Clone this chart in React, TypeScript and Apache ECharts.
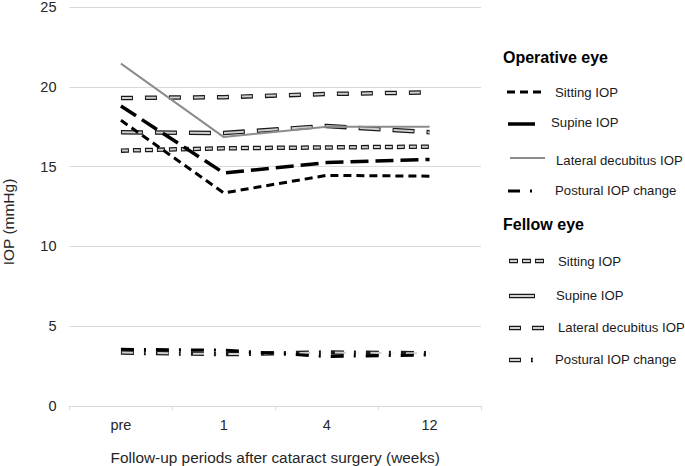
import React, { useEffect, useRef } from "react";
import * as echarts from "echarts";

const categories = ["pre", "1", "4", "12"];
const yTicks = [0, 5, 10, 15, 20, 25];

const opSitting = [17.9, 13.35, 14.45, 14.4];
const opSupine = [18.8, 14.6, 15.25, 15.45];
const opLateral = [21.45, 16.85, 17.5, 17.5];
const opPostural = [3.55, 3.5, 3.1, 3.2];

const fellowSitting = [16.0, 16.15, 16.2, 16.25];
const fellowSupine = [17.15, 17.1, 17.55, 17.15];
const fellowLateral = [19.3, 19.35, 19.55, 19.65];
const fellowPostural = [3.35, 3.25, 3.35, 3.3];

const FONT = "'Liberation Sans', Arial, sans-serif";
const INNER = "#cfcfcf";

function plain(name: string, data: number[], color: string, width: number, dash: any, z = 3) {
  return {
    name,
    type: "line",
    data,
    symbol: "none",
    z,
    lineStyle: { color, width, type: dash, cap: "butt" },
  };
}

function outlined(name: string, data: number[], dash: number[] | "solid") {
  let innerDash: any = "solid";
  if (dash !== "solid") {
    innerDash = [];
    for (let i = 0; i < dash.length; i += 2) {
      innerDash.push(Math.max(dash[i] - 2, 0.5), dash[i + 1] + 2);
    }
  }
  return [
    {
      name,
      type: "line",
      data,
      symbol: "none",
      z: 2,
      lineStyle: { color: "#1a1a1a", width: 4.5, type: dash, cap: "butt" },
    },
    {
      name: name + " inner",
      type: "line",
      data,
      symbol: "none",
      z: 2,
      lineStyle: {
        color: INNER,
        width: 2,
        type: innerDash,
        dashOffset: dash === "solid" ? 0 : -1,
        cap: "butt",
      },
    },
  ];
}

function legendLine(x1: number, x2: number, y: number, stroke: string, w: number, dash?: number[]) {
  return {
    type: "line",
    shape: { x1, y1: y, x2, y2: y },
    style: { stroke, lineWidth: w, lineDash: dash || null, lineCap: "butt" },
  };
}

function legendOutlined(x1: number, x2: number, y: number, dash?: number[]) {
  const els: any[] = [legendLine(x1, x2, y, "#1a1a1a", 4.5, dash)];
  let inner: any = undefined;
  if (dash) {
    inner = [];
    for (let i = 0; i < dash.length; i += 2) inner.push(Math.max(dash[i] - 2, 0.5), dash[i + 1] + 2);
  }
  els.push({
    type: "line",
    shape: { x1: x1 + 1, y1: y, x2: x2 - 1, y2: y },
    style: { stroke: INNER, lineWidth: 2, lineDash: inner || null, lineCap: "butt" },
  });
  return els;
}

function legendText(x: number, y: number, text: string, bold = false) {
  return {
    type: "text",
    x,
    y,
    style: {
      text,
      fill: bold ? "#000" : "#1a1a1a",
      font: bold ? `bold 16px ${FONT}` : `13.2px ${FONT}`,
      verticalAlign: "middle",
      align: "left",
    },
  };
}

export default function App() {
  const ref = useRef<HTMLDivElement>(null);
  useEffect(() => {
    document.body.style.margin = "0";
    if (!ref.current) return;
    const chart = echarts.init(ref.current, undefined, { renderer: "svg" });
    const series: any[] = [
      ...outlined("Fellow Sitting IOP", fellowSitting, [8, 4]),
      ...outlined("Fellow Supine IOP", fellowSupine, [22, 12]),
      ...outlined("Fellow Lateral decubitus IOP", fellowLateral, [12, 12]),
      ...outlined("Fellow Postural IOP change", fellowPostural, [13, 10, 2, 10]),
      plain("Sitting IOP", opSitting, "#000", 3, [8, 5]),
      plain("Supine IOP", opSupine, "#000", 3.5, [18, 7]),
      plain("Lateral decubitus IOP", opLateral, "#8c8c8c", 2, "solid"),
      plain("Postural IOP change", opPostural, "#000", 3, [13, 10, 2, 10]),
    ];
    const graphic: any[] = [
      {
        type: "text",
        x: 8,
        y: 222,
        rotation: Math.PI / 2,
        style: {
          text: "IOP (mmHg)",
          fill: "#262626",
          font: `15.5px ${FONT}`,
          align: "center",
          verticalAlign: "middle",
        },
      },
      legendText(503, 57, "Operative eye", true),
      legendLine(507, 541, 92, "#000", 3, [8, 5]),
      legendText(555, 92, "Sitting IOP"),
      legendLine(508, 535, 124, "#000", 3.5),
      legendText(551, 122, "Supine IOP"),
      legendLine(510, 545, 158, "#8c8c8c", 2),
      legendText(556, 160, "Lateral decubitus IOP"),
      legendLine(508, 533, 191, "#000", 3, [12, 10, 2, 10]),
      legendText(555, 190, "Postural IOP change"),
      legendText(503, 224, "Fellow eye", true),
      ...legendOutlined(509, 545, 261, [9, 4]),
      legendText(558, 261, "Sitting IOP"),
      ...legendOutlined(509, 535, 296),
      legendText(556, 295, "Supine IOP"),
      ...legendOutlined(509, 545, 328, [12, 11]),
      legendText(558, 327, "Lateral decubitus IOP"),
      ...legendOutlined(509, 534, 360, [12, 10, 2, 10]),
      legendText(555, 359, "Postural IOP change"),
    ];
    chart.setOption({
      animation: false,
      textStyle: { fontFamily: FONT },
      grid: {
        left: 69.5,
        right: 204,
        top: 7,
        bottom: 60,
        containLabel: false,
        outerBoundsMode: "none",
      },
      xAxis: {
        type: "category",
        data: categories,
        boundaryGap: true,
        name: "Follow-up periods after cataract surgery (weeks)",
        nameLocation: "middle",
        nameGap: 44,
        nameTextStyle: { fontSize: 15.4, color: "#262626", fontFamily: FONT },
        axisLine: { lineStyle: { color: "#d9d9d9", width: 1 } },
        axisTick: { show: true, length: 4, lineStyle: { color: "#d9d9d9" } },
        axisLabel: { fontSize: 14.5, color: "#262626", margin: 11, fontFamily: FONT },
      },
      yAxis: {
        type: "value",
        min: yTicks[0],
        max: yTicks[yTicks.length - 1],
        interval: 5,
        axisLine: { show: false },
        axisTick: { show: false },
        splitLine: { lineStyle: { color: "#d9d9d9", width: 1 } },
        axisLabel: { fontSize: 14.5, color: "#262626", margin: 13, fontFamily: FONT },
      },
      series,
      graphic,
    });
    return () => chart.dispose();
  }, []);
  return <div ref={ref} style={{ width: 685, height: 466 }} />;
}
